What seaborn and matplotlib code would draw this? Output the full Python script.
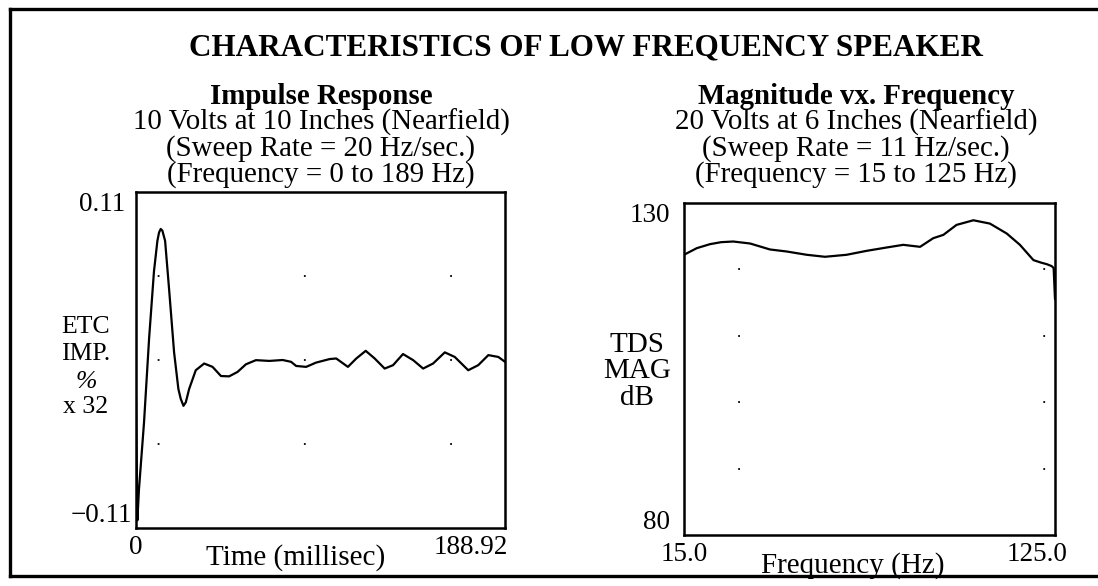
import matplotlib
matplotlib.use("Agg")
import matplotlib.pyplot as plt
import pandas as pd
import seaborn as sns
from matplotlib.lines import Line2D
from matplotlib.ticker import FixedLocator
from matplotlib.transforms import ScaledTranslation

# ---- Impulse response (ETC impulse, % x 32) ----
impulse_time_ms = [0.0, 0.7, 1.5, 4.1, 6.7, 9.2, 10.95, 11.8, 12.66, 13.5, 14.9, 16.9,
                   19.5, 21.7, 22.9, 24.3, 25.5, 27.2, 30.6, 34.9, 39.2, 43.5, 47.7,
                   52.0, 56.3, 61.4, 68.3, 75.1, 79.4, 82.0, 87.1, 92.2, 99.1, 102.5,
                   108.5, 112.8, 117.6, 122.2, 127.3, 131.6, 136.7, 141.9, 147.0,
                   152.1, 158.1, 163.2, 170.1, 175.2, 180.4, 185.5, 188.92]
impulse_level = [-0.025, -0.105, -0.085, -0.041, 0.014, 0.058, 0.078, 0.0835, 0.0858,
                 0.0847, 0.078, 0.047, 0.005, -0.019, -0.0254, -0.030, -0.0277,
                 -0.019, -0.0067, -0.0023, -0.0045, -0.0105, -0.0107, -0.0078,
                 -0.0028, -0.0001, -0.0006, 0.0, -0.0012, -0.0039, -0.0045, -0.0017,
                 0.0006, 0.001, -0.0045, 0.001, 0.006, 0.001, -0.0056, -0.0034,
                 0.0039, -0.0001, -0.0056, -0.0023, 0.005, 0.002, -0.0067, -0.0034,
                 0.0032, 0.002, -0.0012]

# ---- Magnitude vs. frequency sweep ----
sweep_freq_hz = [15.0, 18.8, 22.7, 26.0, 29.6, 34.6, 40.5, 45.4, 51.4, 56.8, 63.2,
                 69.2, 75.1, 80.0, 85.0, 88.9, 91.9, 95.8, 100.8, 105.7, 110.7,
                 114.6, 118.6, 121.0, 122.5, 124.0, 124.6, 125.0]
sweep_mag_db = [122.2, 123.2, 123.8, 124.1, 124.2, 123.9, 123.0, 122.7, 122.2, 121.9,
                122.2, 122.8, 123.3, 123.7, 123.4, 124.7, 125.2, 126.7, 127.4, 126.9,
                125.4, 123.7, 121.4, 121.0, 120.8, 120.5, 120.2, 115.5]

# ---- Text ----
main_title = "CHARACTERISTICS OF LOW FREQUENCY SPEAKER"
left_heading = ["Impulse Response", "10 Volts at 10 Inches (Nearfield)",
                "(Sweep Rate = 20 Hz/sec.)", "(Frequency = 0 to 189 Hz)"]
right_heading = ["Magnitude vx. Frequency", "20 Volts at 6 Inches (Nearfield)",
                 "(Sweep Rate = 11 Hz/sec.)", "(Frequency = 15 to 125 Hz)"]
left_ylabel_lines = ["ETC", "IMP.", "%", "x 32"]
right_ylabel_lines = ["TDS", "MAG", "dB"]
left_xlabel = "Time (millisec)"
right_xlabel = "Frequency (Hz)"

left_xticks = [0.0, 188.92]
left_xticklabels = ["0", "188.92"]
left_yticks = [-0.11, 0.11]
left_yticklabels = ["\u22120.11", "0.11"]
right_xticks = [15.0, 125.0]
right_xticklabels = ["15.0", "125.0"]
right_yticks = [80, 130]
right_yticklabels = ["80", "130"]
left_grid_rows = [-0.055, 0.0, 0.055]
right_grid_rows = [90, 100, 110, 120]

impulse_df = pd.DataFrame({"time": impulse_time_ms, "level": impulse_level})
sweep_df = pd.DataFrame({"freq": sweep_freq_hz, "mag": sweep_mag_db})

sns.set_theme(style="white")
plt.rcParams["font.family"] = ["Liberation Serif", "DejaVu Serif"]
plt.rcParams["text.color"] = "black"
plt.rcParams["xtick.color"] = "black"
plt.rcParams["ytick.color"] = "black"

W, H = 1098, 586
fig = plt.figure(figsize=(W / 100, H / 100), dpi=100)
fig.patch.set_facecolor("white")


def fx(px):
    return px / W


def fy(py):
    return 1 - py / H


ax1 = fig.add_axes([fx(136), fy(528), (505 - 136) / W, (528 - 192) / H])
ax2 = fig.add_axes([fx(684), fy(535), (1055 - 684) / W, (535 - 203) / H])

sns.lineplot(data=impulse_df, x="time", y="level", ax=ax1, color="black",
             linewidth=1.6, estimator=None, sort=False)
sns.lineplot(data=sweep_df, x="freq", y="mag", ax=ax2, color="black",
             linewidth=1.6, estimator=None, sort=False)

tick_fs = 19.5


def style_axes(ax, xticks, xlabels, yticks, ylabels, xlim, ylim, grid_rows,
               dash, ypad, last_shift_px, top_shift_px):
    ax.set_xlim(*xlim)
    ax.set_ylim(*ylim)
    ax.set_xlabel("")
    ax.set_ylabel("")
    ax.set_xticks(xticks, xlabels, fontsize=tick_fs)
    ax.set_yticks(yticks, ylabels, fontsize=tick_fs)
    ax.tick_params(axis="both", length=0)
    ax.tick_params(axis="x", pad=5)
    ax.tick_params(axis="y", pad=ypad)
    for spine in ax.spines.values():
        spine.set_color("black")
        spine.set_linewidth(1.8)
    ax.yaxis.set_minor_locator(FixedLocator(grid_rows))
    ax.tick_params(axis="y", which="minor", length=0)
    ax.grid(False)
    ax.grid(True, which="minor", axis="y", color="black", linewidth=1.3,
            linestyle=dash)
    ylabs = ax.get_yticklabels()
    ylabs[0].set_verticalalignment("bottom")
    ylabs[1].set_verticalalignment("top")
    ylabs[1].set_transform(ylabs[1].get_transform() +
                           ScaledTranslation(top_shift_px / 100, 0,
                                             fig.dpi_scale_trans))
    xlabs = ax.get_xticklabels()
    xlabs[1].set_transform(xlabs[1].get_transform() +
                           ScaledTranslation(last_shift_px / 100, 0,
                                             fig.dpi_scale_trans))


style_axes(ax1, left_xticks, left_xticklabels, left_yticks, left_yticklabels,
           (0, 188.92), (-0.11, 0.11), left_grid_rows, (69, (1, 80)), 3, -34, -7)
style_axes(ax2, right_xticks, right_xticklabels, right_yticks, right_yticklabels,
           (15.0, 125.0), (80, 130), right_grid_rows, (139, (1, 168)), 10, -18, 0)

# Titles
fig.text(fx(586), fy(55), main_title, ha="center", va="baseline",
         fontsize=22.4, fontweight="bold")
heading_baselines = [104, 130, 156, 182]
for i, (lt, rt, yb) in enumerate(zip(left_heading, right_heading, heading_baselines)):
    weight = "bold" if i == 0 else "normal"
    fig.text(fx(321), fy(yb), lt, ha="center", va="baseline", fontsize=20.8,
             fontweight=weight)
    fig.text(fx(856), fy(yb), rt, ha="center", va="baseline", fontsize=20.8,
             fontweight=weight)

# Vertical-axis captions
for txt, yb in zip(left_ylabel_lines, [333, 360, 388, 413]):
    style = "italic" if txt == "%" else "normal"
    fig.text(fx(86), fy(yb), txt, ha="center", va="baseline", fontsize=18.5,
             fontstyle=style)
for txt, yb in zip(right_ylabel_lines, [352, 378, 405]):
    fig.text(fx(637), fy(yb), txt, ha="center", va="baseline", fontsize=21)

# Horizontal-axis captions
fig.text(fx(296), fy(565), left_xlabel, ha="center", va="baseline", fontsize=21)
fig.text(fx(853), fy(573), right_xlabel, ha="center", va="baseline", fontsize=21)

# Outer frame: left, top and bottom rules
frame_kw = dict(transform=fig.transFigure, color="black", linewidth=2.4,
                solid_capstyle="projecting")
fig.add_artist(Line2D([fx(10), fx(10)], [fy(9), fy(576)], **frame_kw))
fig.add_artist(Line2D([fx(10), fx(1097)], [fy(9), fy(9)], **frame_kw))
fig.add_artist(Line2D([fx(10), fx(1097)], [fy(576), fy(576)], **frame_kw))

fig.savefig("out.png", dpi=100)
